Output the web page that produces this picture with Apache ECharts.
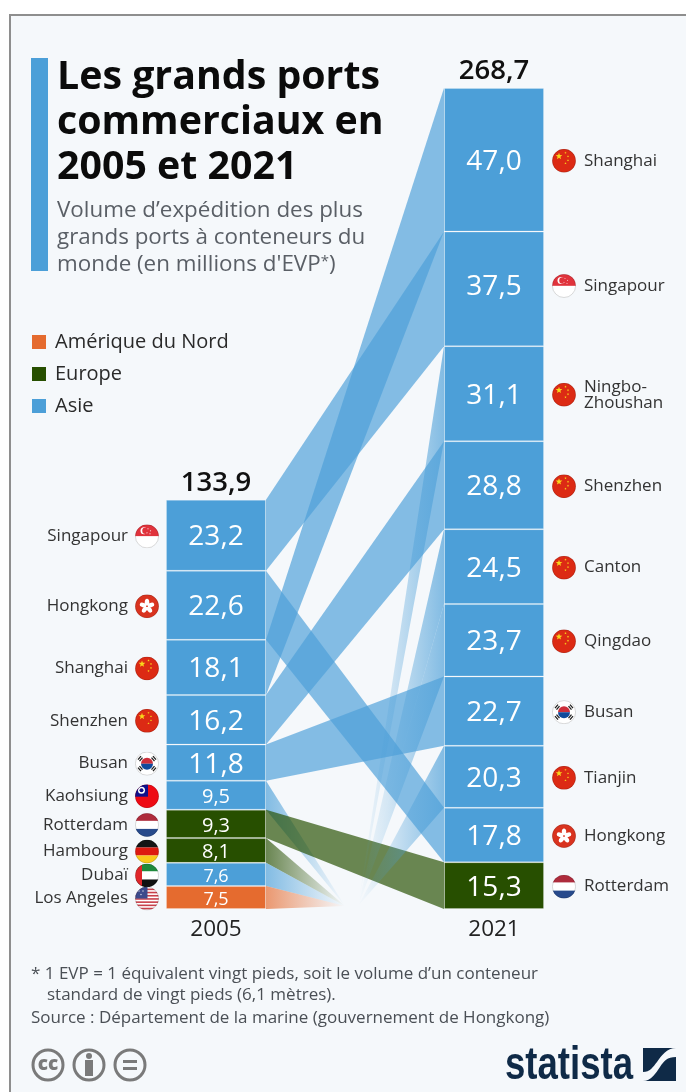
<!DOCTYPE html>
<html><head><meta charset="utf-8">
<style>html,body{margin:0;padding:0;background:#fff}#c{width:686px;height:1092px}</style>
<script src="https://cdn.jsdelivr.net/npm/echarts@6/dist/echarts.min.js"></script>
</head><body><div id="c"></div>
<script>
const years = ['2005', '2021'];
const totals = [133.9, 268.7];
const ports2005 = ['Singapour','Hongkong','Shanghai','Shenzhen','Busan','Kaohsiung','Rotterdam','Hambourg','Dubaï','Los Angeles'];
const values2005 = [23.2,22.6,18.1,16.2,11.8,9.5,9.3,8.1,7.6,7.5];
const regions2005 = ['Asie','Asie','Asie','Asie','Asie','Asie','Europe','Europe','Asie','Amérique du Nord'];
const flags2005 = ['sg','hk','cn','cn','kr','tw','nl','de','ae','us'];
const ports2021 = ['Shanghai','Singapour','Ningbo-\nZhoushan','Shenzhen','Canton','Qingdao','Busan','Tianjin','Hongkong','Rotterdam'];
const values2021 = [47.0,37.5,31.1,28.8,24.5,23.7,22.7,20.3,17.8,15.3];
const regions2021 = ['Asie','Asie','Asie','Asie','Asie','Asie','Asie','Asie','Asie','Europe'];
const flags2021 = ['cn','sg','cn','cn','cn','cn','kr','cn','hk','nl'];
const regionNames = ['Amérique du Nord','Europe','Asie'];
const regionColors = {'Amérique du Nord':'#e56b2f','Europe':'#274f00','Asie':'#4c9fd8'};

const FONT = '"Open Sans"';
const hexA = (h,a)=>{const n=parseInt(h.slice(1),16);return `rgba(${n>>16},${(n>>8)&255},${n&255},${a})`;};
const fmt = v=>v.toFixed(1).replace('.',',');
const sum = a=>a.reduce((s,v)=>s+v,0);
const topOf = (vals,i)=>sum(vals.slice(i));
const botOf = (vals,i)=>sum(vals.slice(i+1));
/* the reference sets the 2021 Singapour label a little above its segment's centre */
const labelLift = (catIdx,name)=>(catIdx===1&&name==='Singapour')?-4:0;

/* flag icons */
const star=(x,y,r,c)=>{let p=[];for(let i=0;i<10;i++){const a=-Math.PI/2+i*Math.PI/5,q=i%2?r*0.42:r;p.push((x+q*Math.cos(a)).toFixed(1)+','+(y+q*Math.sin(a)).toFixed(1));}return `<polygon points="${p.join(' ')}" fill="${c}"/>`;};
const R=(x,y,w,h,c)=>`<rect x="${x}" y="${y}" width="${w}" height="${h}" fill="${c}"/>`;
const usStripes=()=>{let s=R(0,0,48,48,'#fff');for(let i=0;i<7;i++)s+=R(0,4+i*6.4,48,3.2,'#c8404a');return s+R(0,0,25,24,'#3c4a8c')+star(8,9,2,'#fff')+star(16,9,2,'#fff')+star(12,16,2,'#fff');};
const flagBody={
 cn:R(0,0,48,48,'#dc2a14')+star(14,15,7,'#f8d81c')+star(27,8,2.4,'#f8d81c')+star(32,15,2.4,'#f8d81c')+star(32,23,2.4,'#f8d81c')+star(27,29,2.4,'#f8d81c'),
 sg:R(0,0,48,24,'#e0333c')+R(0,24,48,24,'#fff')+'<circle cx="18" cy="13" r="7" fill="#fff"/><circle cx="21" cy="13" r="6.5" fill="#e0333c"/>'+star(26,9,1.6,'#fff')+star(31,13,1.6,'#fff')+star(24,17,1.6,'#fff')+star(30,19,1.6,'#fff'),
 hk:R(0,0,48,48,'#d9331f')+[0,72,144,216,288].map(a=>`<ellipse cx="24" cy="16" rx="4.5" ry="7" fill="#fff" transform="rotate(${a} 24 24)"/>`).join('')+'<circle cx="24" cy="24" r="1.6" fill="#d9331f"/>',
 kr:R(0,0,48,48,'#fff')+'<path d="M12 24a12 12 0 0 1 24 0z" fill="#cd2e3a"/><path d="M12 24a12 12 0 0 0 24 0z" fill="#0f4a9c"/>'+'<g stroke="#222" stroke-width="2.6"><path d="M6 16L12 9M9 19L15 12M33 12L39 19M36 9L42 16M6 32L12 39M9 29L15 36M33 36L39 29M36 39L42 32"/></g>',
 tw:R(0,0,48,48,'#ee0a14')+R(0,0,26,25,'#10108c')+'<circle cx="13" cy="12" r="7" fill="#fff"/><circle cx="13" cy="12" r="4" fill="#10108c"/>',
 nl:R(0,0,48,16,'#ae2b3c')+R(0,16,48,16,'#fff')+R(0,32,48,16,'#274a8c'),
 de:R(0,0,48,16,'#151515')+R(0,16,48,16,'#dd1a10')+R(0,32,48,16,'#f9c81a'),
 ae:R(0,0,48,16,'#1f8a3c')+R(0,16,48,16,'#fff')+R(0,32,48,16,'#111')+R(0,0,14,48,'#e0262a'),
 us:usStripes()
};
const flagUri=k=>'data:image/svg+xml;charset=utf-8,'+encodeURIComponent(`<svg xmlns="http://www.w3.org/2000/svg" width="96" height="96" viewBox="0 0 48 48"><defs><clipPath id="a"><circle cx="24" cy="24" r="23.5"/></clipPath></defs><g clip-path="url(#a)">${flagBody[k]}</g><circle cx="24" cy="24" r="23.2" fill="none" stroke="#000" stroke-opacity=".25" stroke-width="1.2"/></svg>`);
const statistaMark='data:image/svg+xml;charset=utf-8,'+encodeURIComponent('<svg xmlns="http://www.w3.org/2000/svg" width="132" height="132" viewBox="0 0 33 33"><rect width="33" height="33" fill="#0f2a47"/><path d="M33 0 L33 9 C24 9 21 13 17 19 C13 25 8 33 0 33 L0 24 C7 24 10 19 14 14 C18 8 24 0 33 0Z" fill="#f5f8fb"/></svg>');

/* series */
const series=[];
regionNames.forEach(n=>series.push({name:n,type:'bar',stack:'legendOnly',data:[],itemStyle:{color:regionColors[n]}}));

function addBars(catIdx,vals,regs,names){
  for(let i=vals.length-1;i>=0;i--){
    const d=[null,null];d[catIdx]=vals[i];
    const v=vals[i];
    series.push({name:years[catIdx]+' '+names[i],type:'bar',stack:'ports',barWidth:100,z:3,data:d,
      itemStyle:{color:regionColors[regs[i]],borderColor:'rgba(255,255,255,0.2)',borderWidth:1},
      label:{show:true,position:'inside',offset:[0,2+labelLift(catIdx,names[i])],color:'#fff',fontFamily:FONT,fontSize:v>=11?28:(v>=8?20:18),formatter:p=>fmt(p.value)},
      emphasis:{disabled:true}});
  }
}
addBars(0,values2005,regions2005,ports2005);
addBars(1,values2021,regions2021,ports2021);

/* flows */
const flows=[];
ports2005.forEach((p,i)=>{const j=ports2021.indexOf(p);flows.push({from:i,to:j});});
ports2021.forEach((p,j)=>{if(ports2005.indexOf(p)<0)flows.push({from:-1,to:j});});
const HALF=50, OUT_T=0.444, IN_T=0.517, SINK=1, A=0.68;
series.push({type:'custom',name:'flows',z:1,silent:true,clip:false,coordinateSystem:'cartesian2d',
  data:flows.map((f,i)=>[0,i]),
  renderItem(params,api){
    const f=flows[params.dataIndex];
    const xA=api.coord([0,0])[0]+HALF, xB=api.coord([1,0])[0]-HALF;
    const Y=v=>api.coord([0,v])[1];
    let pts,color,fill;
    if(f.from>=0&&f.to>=0){
      color=regionColors[regions2005[f.from]];
      fill=hexA(color,A);
      pts=[[xA,Y(topOf(values2005,f.from))],[xB,Y(topOf(values2021,f.to))],[xB,Y(botOf(values2021,f.to))],[xA,Y(botOf(values2005,f.from))]];
    }else if(f.from>=0){
      color=regionColors[regions2005[f.from]];
      const x=xA+(xB-xA)*OUT_T;
      pts=[[xA,Y(topOf(values2005,f.from))],[x,Y(SINK)],[xA,Y(botOf(values2005,f.from))]];
      fill={type:'linear',x:0,y:0,x2:1,y2:0,colorStops:[{offset:0,color:hexA(color,A)},{offset:1,color:hexA(color,0)}]};
    }else{
      color=regionColors[regions2021[f.to]];
      const x=xA+(xB-xA)*IN_T;
      pts=[[x,Y(SINK)],[xB,Y(topOf(values2021,f.to))],[xB,Y(botOf(values2021,f.to))]];
      fill={type:'linear',x:0,y:0,x2:1,y2:0,colorStops:[{offset:0,color:hexA(color,0)},{offset:0.35,color:hexA(color,0.2)},{offset:1,color:hexA(color,A)}]};
    }
    return {type:'polygon',shape:{points:pts},style:{fill:fill}};
  }});

/* port labels with flags */
function addLabels(catIdx,vals,names,flags){
  series.push({type:'custom',name:'labels'+catIdx,z:4,silent:true,clip:false,coordinateSystem:'cartesian2d',
    data:vals.map((v,i)=>[catIdx,botOf(vals,i)+v/2]),
    renderItem(params,api){
      const i=params.dataIndex;
      const c=api.coord([catIdx,api.value(1)]);
      const left=catIdx===0;
      const fx=left?c[0]-HALF-19:c[0]+HALF+20;
      const tx=left?c[0]-HALF-38:c[0]+HALF+40;
      const cy=c[1]+1+labelLift(catIdx,names[i]);
      return {type:'group',children:[
        {type:'image',style:{image:flagUri(flags[i]),x:fx-12,y:cy-12,width:24,height:24}},
        {type:'text',style:{text:names[i],x:tx,y:cy,align:left?'right':'left',verticalAlign:'middle',fontFamily:FONT,fontSize:17,lineHeight:16,fill:'#333'}}
      ]};
    }});
}
addLabels(0,values2005,ports2005,flags2005);
addLabels(1,values2021,ports2021,flags2021);

/* totals */
series.push({type:'custom',name:'totals',z:4,silent:true,clip:false,coordinateSystem:'cartesian2d',
  data:totals.map((t,i)=>[i,t]),
  renderItem(params,api){
    const c=api.coord([api.value(0),api.value(1)]);
    return {type:'text',style:{text:fmt(totals[params.dataIndex]),x:c[0],y:c[1]-17,align:'center',verticalAlign:'middle',fontFamily:FONT,fontWeight:600,fontSize:27.5,fill:'#111'}};
  }});

/* page furniture */
const T=(text,x,y,size,fill,extra)=>Object.assign({type:'text',z:5,style:Object.assign({text,x,y,fontFamily:FONT,fontSize:size,fill,verticalAlign:'middle'},extra||{})});
const grey='#7a7a7a';
const ring=(cx)=>({type:'circle',z:5,shape:{cx,cy:1065,r:15},style:{fill:'none',stroke:grey,lineWidth:3}});
const graphic=[
  {type:'rect',z:-10,shape:{x:10,y:15,width:700,height:1100},style:{fill:'#f5f8fb',stroke:'#8e8e8e',lineWidth:2}},
  {type:'rect',z:5,shape:{x:31,y:58,width:17,height:213},style:{fill:'#4c9fd8'}},
  T('Les grands ports',57,78,39.3,'#0b0b0b',{fontWeight:700}),
  T('commerciaux en',57,123,39.3,'#0b0b0b',{fontWeight:700}),
  T('2005 et 2021',57,168,39.3,'#0b0b0b',{fontWeight:700}),
  T('Volume d’expédition des plus',57,211,22.4,'#5a5f66'),
  T('grands ports à conteneurs du',57,238,22.4,'#5a5f66'),
  T('{a|monde (en millions d\'EVP}{b|*}{a|)}',57,265,22.4,'#5a5f66',{rich:{a:{fontFamily:FONT,fontSize:22.4,fill:'#5a5f66'},b:{fontFamily:FONT,fontSize:15,fill:'#5a5f66',verticalAlign:'top'}}}),
  T('* 1 EVP = 1 équivalent vingt pieds, soit le volume d’un conteneur',31,974,17,'#4a4f55'),
  T('standard de vingt pieds (6,1 mètres).',47,995,17,'#4a4f55'),
  T('Source : Département de la marine (gouvernement de Hongkong)',31,1018,17,'#4a4f55'),
  ring(48),ring(89),ring(130),
  T('cc',48,1065,19,grey,{fontWeight:800,align:'center'}),
  {type:'circle',z:5,shape:{cx:89,cy:1056,r:3},style:{fill:grey}},
  {type:'rect',z:5,shape:{x:85,y:1060,width:8,height:16},style:{fill:grey}},
  {type:'rect',z:5,shape:{x:123,y:1060,width:14,height:3},style:{fill:grey}},
  {type:'rect',z:5,shape:{x:123,y:1067,width:14,height:3},style:{fill:grey}},
  {type:'text',z:5,x:505,y:1066,scaleX:0.795,style:{text:'statista',x:0,y:0,fontFamily:'"Liberation Sans"',fontWeight:700,fontSize:46,fill:'#0f2a47',verticalAlign:'middle'}},
  {type:'image',z:5,style:{image:statistaMark,x:643,y:1048,width:33,height:33}}
];

const chart=echarts.init(document.getElementById('c'),null,{renderer:'canvas'});
chart.setOption({
  animation:false,
  backgroundColor:'#ffffff',
  tooltip:{show:false},
  grid:{left:77,width:556,top:88,height:821,containLabel:false},
  xAxis:{type:'category',data:years,axisLine:{show:false},axisTick:{show:false},splitLine:{show:false},
    axisLabel:{color:'#222',fontFamily:FONT,fontSize:22.5,margin:9}},
  yAxis:{type:'value',min:0,max:totals[1],show:false,splitLine:{show:false}},
  legend:{data:regionNames,orient:'vertical',left:27,top:327,itemWidth:14,itemHeight:14,itemGap:12,icon:'rect',selectedMode:false,
    textStyle:{color:'#2a2a2a',fontFamily:FONT,fontSize:20,padding:[0,0,0,4]},z:5},
  graphic:{elements:graphic},
  series
});
</script></body></html>
